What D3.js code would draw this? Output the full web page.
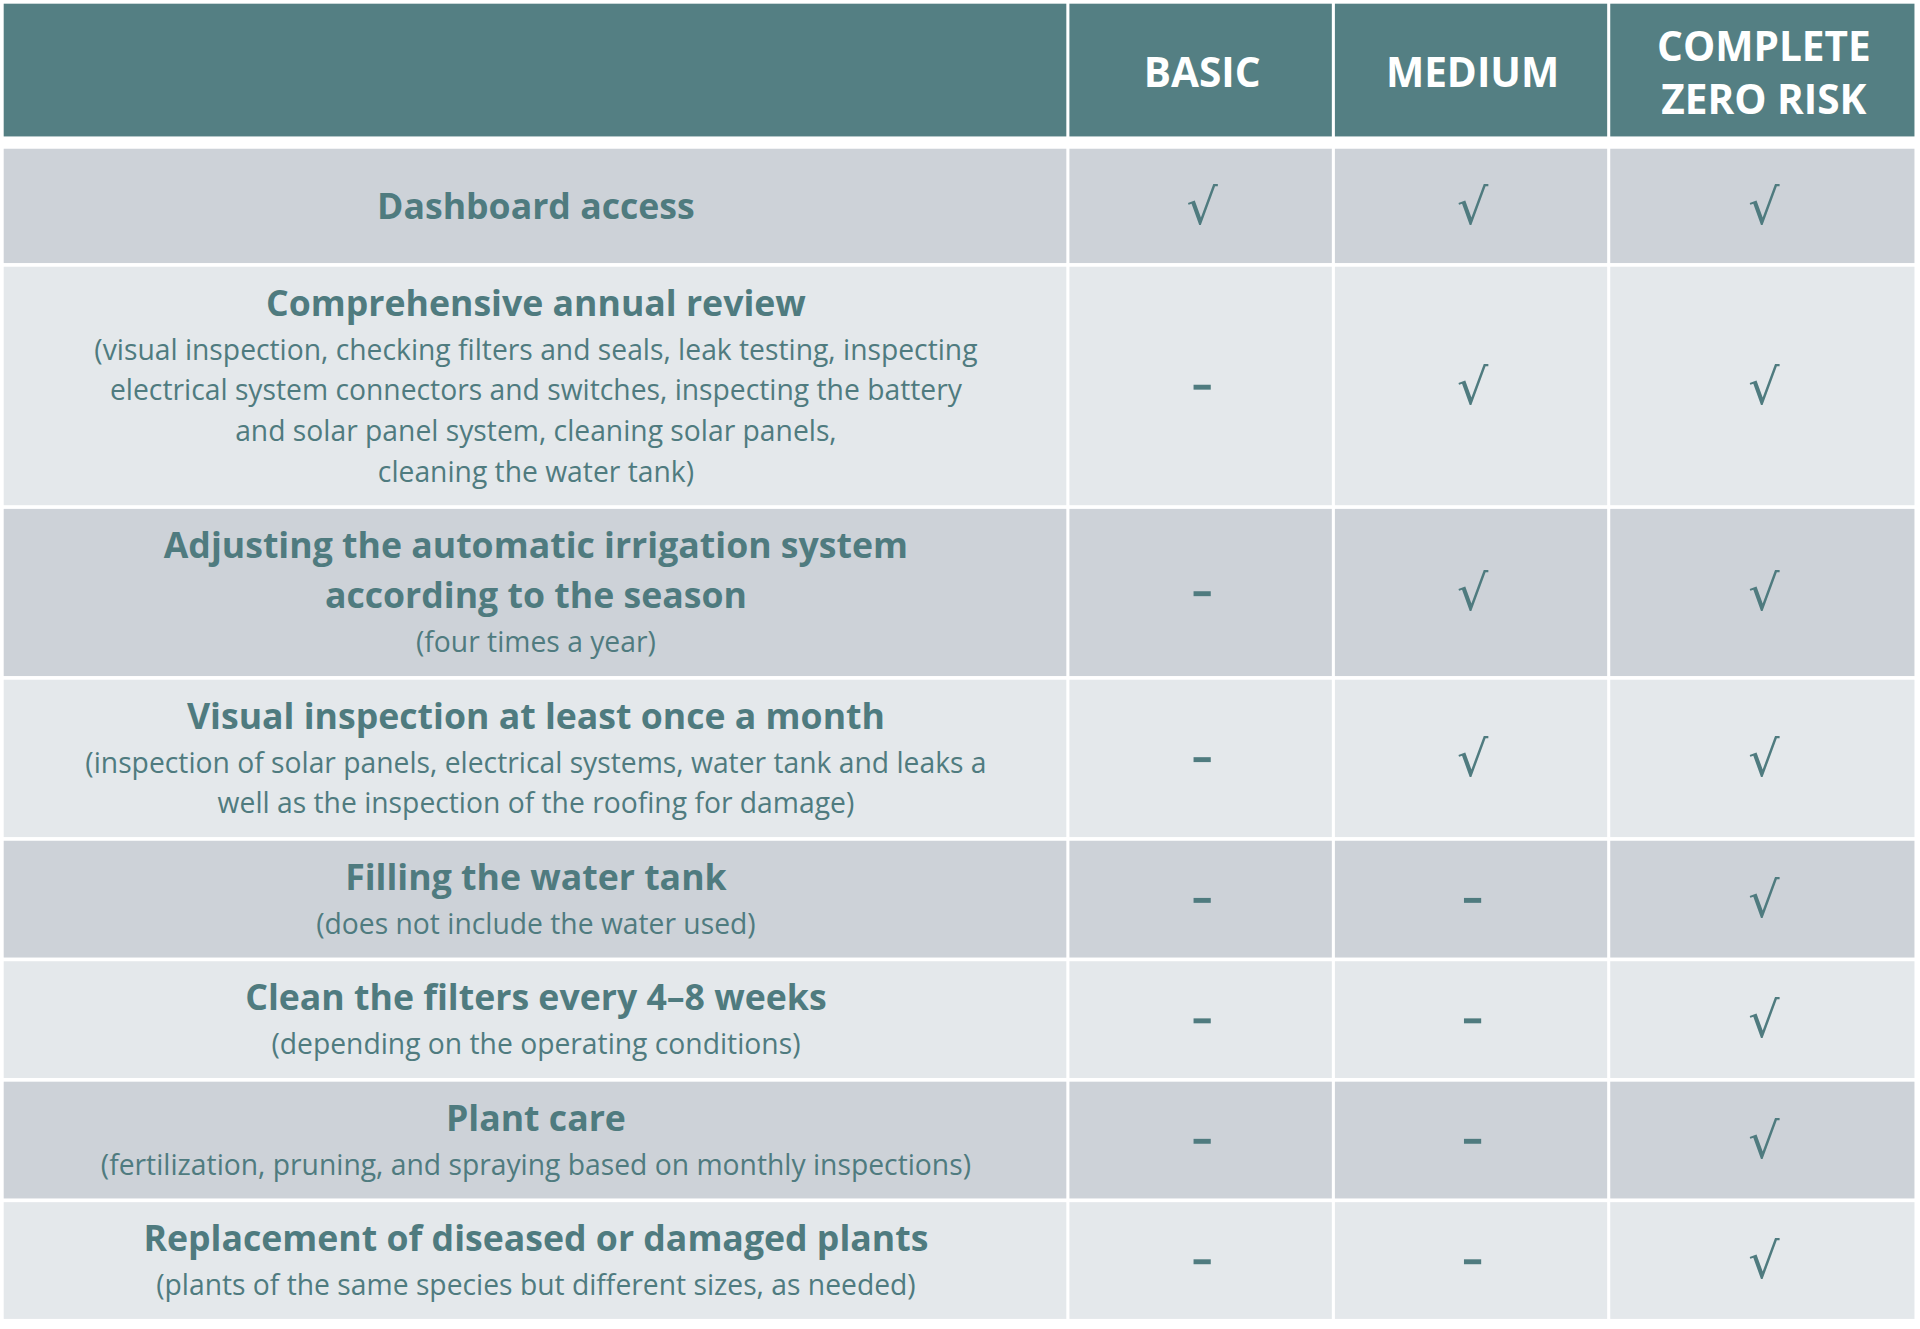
<!DOCTYPE html><html><head><meta charset="utf-8"><script src="https://cdn.jsdelivr.net/npm/d3@7"></script>
<style>body{margin:0;background:#fff}svg{display:block}</style></head><body><svg id="c" width="1920" height="1329" viewBox="0 0 1562 1081.2"></svg>
<script>
const plans = ["BASIC","MEDIUM",["COMPLETE","ZERO RISK"]];
const titles = [["Dashboard access"],["Comprehensive annual review"],["Adjusting the automatic irrigation system","according to the season"],["Visual inspection at least once a month"],["Filling  the water tank"],["Clean the filters every 4–8 weeks"],["Plant care"],["Replacement of diseased or damaged plants"]];
const subs = [[],["(visual inspection, checking filters and seals, leak testing, inspecting","electrical system connectors and switches, inspecting the battery","and solar panel system, cleaning solar panels,","cleaning the water tank)"],["(four times a year)"],["(inspection of solar panels, electrical systems, water tank and leaks a","well as the inspection of the roofing for damage)"],["(does not include the water used)"],["(depending on the operating conditions)"],["(fertilization, pruning, and spraying based on monthly inspections)"],["(plants of the same species but different sizes, as needed)"]];
const basic = [1,0,0,0,0,0,0,0];
const medium = [1,1,1,1,0,0,0,0];
const complete = [1,1,1,1,1,1,1,1];

const svg=d3.select("#c");
const colEdges=[3,869,1085,1309,1559];
const gap=3;
const C_HEAD="#547f83", C_TXT="#4f7b7f", FONT="'Open Sans', Lato, sans-serif";
const headTop=3, headBot=111;
for(let i=0;i<4;i++){
  svg.append("rect").attr("x",colEdges[i]+(i?1:0)).attr("y",headTop).attr("width",colEdges[i+1]-colEdges[i]-(i?1:0)-1.5).attr("height",headBot-headTop).attr("fill",C_HEAD);
}
plans.forEach((p,i)=>{
  const lines=Array.isArray(p)?p:[p];
  const cx=(colEdges[i+1]+colEdges[i+2])/2+1, cy=(headTop+headBot)/2+2;
  lines.forEach((l,k)=>svg.append("text").attr("x",cx).attr("y",cy+(k-(lines.length-1)/2)*43).attr("dy","0.36em").attr("text-anchor","middle").attr("fill","#fff").attr("font-family",FONT).attr("font-weight",700).attr("font-size",33).text(l));
});
let y=121;
titles.forEach((t,r)=>{
  const s=subs[r];
  const h=Math.max(96,41*t.length+33*s.length+24);
  const fill=r%2===0?"#cdd2d8":"#e4e8eb";
  for(let i=0;i<4;i++){
    svg.append("rect").attr("x",colEdges[i]+(i?1:0)).attr("y",y).attr("width",colEdges[i+1]-colEdges[i]-(i?1:0)-1.5).attr("height",h-gap).attr("fill",fill);
  }
  const cy=y+(h-gap)/2;
  const offs=[];let o=0;
  t.forEach((_,k)=>{offs.push(o);o+= (k<t.length-1)?41:(s.length?38:0);});
  s.forEach((_,k)=>{offs.push(o);o+=33;});
  const span=offs[offs.length-1];
  const cx=(colEdges[0]+colEdges[1])/2;
  const all=t.map(x=>[x,1]).concat(s.map(x=>[x,0]));
  all.forEach(([txt,b],k)=>svg.append("text").attr("x",cx).attr("y",cy-span/2+offs[k]+(s.length?1:0)).attr("dy","0.36em").attr("text-anchor","middle").attr("fill",C_TXT).attr("font-family",FONT).attr("font-weight",b?700:400).attr("font-size",b?29:23).text(txt));
  [basic,medium,complete].forEach((arr,j)=>{
    const x=(colEdges[j+1]+colEdges[j+2])/2+1;
    if(arr[r]) svg.append("text").attr("x",x).attr("y",cy).attr("dy","0.36em").attr("text-anchor","middle").attr("fill",C_TXT).attr("font-family","'DejaVu Sans', sans-serif").attr("font-size",40).text("√");
    else svg.append("rect").attr("x",x-7).attr("y",cy-1).attr("width",14).attr("height",4).attr("fill",C_TXT);
  });
  y+=h;
});
</script></body></html>
